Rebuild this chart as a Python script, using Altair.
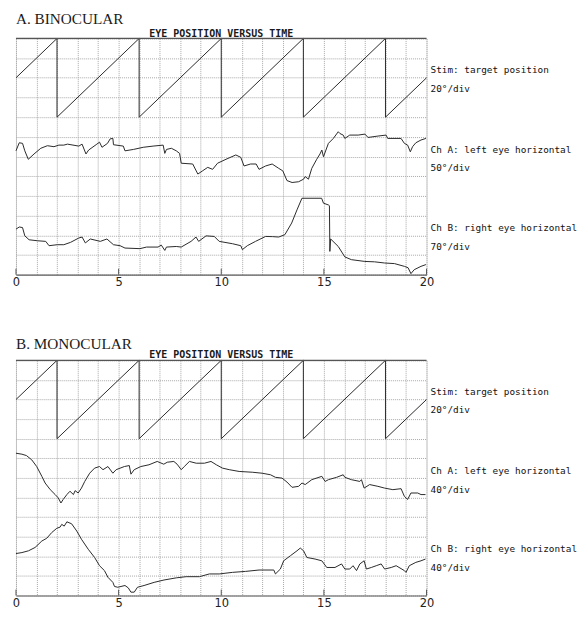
import altair as alt
import pandas as pd

# ---- data (time in s, positions in grid divisions: 0 = bottom, 12 = top) ----
STIM = [(0, 10), (2, 12), (2, 8), (6, 12), (6, 8), (10, 12), (10, 8),
        (14, 12), (14, 8), (18, 12), (18, 8), (20, 10)]

A_CH_A = [(0, 6.29), (0.16, 6.70), (0.32, 6.67), (0.43, 6.29), (0.6, 5.86), (0.88, 6.13),
          (1.21, 6.42), (1.53, 6.55), (1.85, 6.50), (2.09, 6.58), (2.33, 6.58), (2.51, 6.63),
          (3.06, 6.53), (3.22, 6.63), (3.41, 6.13), (3.54, 6.33), (3.94, 6.63), (4.07, 6.73),
          (4.19, 6.47), (4.46, 6.67), (4.59, 6.90), (4.72, 6.92), (4.75, 6.60), (5.23, 6.53),
          (5.31, 6.29), (5.72, 6.36), (6.2, 6.47), (6.68, 6.53), (7.17, 6.58), (7.25, 6.16),
          (7.33, 6.36), (7.57, 6.42), (7.81, 6.29), (7.97, 6.16), (8.05, 5.66), (8.61, 5.62),
          (8.86, 5.11), (9.1, 5.28), (9.34, 5.45), (9.58, 5.35), (9.82, 5.66), (10.23, 5.86),
          (10.71, 6.08), (10.95, 5.96), (11.11, 5.52), (11.43, 5.62), (11.7, 5.62), (11.84, 5.35),
          (12.16, 5.52), (12.48, 5.62), (12.8, 5.40), (13.0, 5.27), (13.2, 4.78), (13.45, 4.68),
          (13.77, 4.72), (14.01, 4.85), (14.09, 4.98), (14.25, 4.85), (14.41, 5.40), (14.65, 5.86),
          (14.81, 6.13), (14.9, 6.33), (14.98, 5.99), (15.22, 6.67), (15.46, 6.92), (15.7, 7.26),
          (15.78, 7.17), (15.94, 7.09), (16.02, 6.92), (16.26, 7.09), (16.67, 7.09), (17.0, 7.14),
          (17.15, 6.97), (17.63, 7.04), (18.03, 7.09), (18.11, 6.92), (18.76, 6.92), (18.92, 6.67),
          (19.08, 6.58), (19.21, 6.24), (19.32, 6.50), (19.48, 6.70), (19.73, 6.84), (19.97, 6.92)]

A_CH_B = [(0, 2.31), (0.16, 2.42), (0.32, 2.39), (0.43, 1.97), (0.64, 1.77), (1.05, 1.72),
          (1.45, 1.69), (1.61, 1.47), (2.01, 1.52), (2.33, 1.52), (2.66, 1.64), (3.06, 1.86),
          (3.22, 1.91), (3.38, 1.61), (3.62, 1.81), (4.11, 1.69), (4.43, 1.81), (4.75, 1.52),
          (5.07, 1.47), (5.31, 1.35), (6.04, 1.32), (6.36, 1.40), (6.92, 1.40), (7.08, 1.50),
          (7.25, 1.23), (7.33, 1.40), (7.81, 1.43), (8.05, 1.40), (8.53, 1.69), (8.77, 1.91),
          (8.9, 1.69), (9.26, 1.97), (9.66, 1.94), (9.9, 1.69), (10.55, 1.57), (10.95, 1.47),
          (11.03, 1.27), (11.27, 1.47), (11.67, 1.69), (12.16, 1.94), (12.5, 1.93), (12.8, 1.91),
          (13.1, 2.03), (13.43, 2.62), (13.69, 3.29), (13.93, 3.88), (14.89, 3.88), (14.98, 3.63),
          (15.22, 3.54), (15.27, 3.50), (15.29, 1.18), (15.33, 1.81), (15.7, 1.43), (16.02, 0.90),
          (16.34, 0.76), (16.99, 0.67), (17.47, 0.65), (17.96, 0.59), (18.44, 0.56), (18.92, 0.42),
          (19.1, 0.35), (19.24, 0.05), (19.4, 0.25), (19.73, 0.42), (19.97, 0.51)]

B_CH_A = [(0, 7.26), (0.29, 7.21), (0.51, 7.14), (0.77, 6.92), (1.01, 6.58), (1.26, 6.08),
          (1.42, 5.74), (1.67, 5.40), (1.91, 5.15), (2.06, 4.98), (2.19, 4.72), (2.3, 4.90),
          (2.48, 5.15), (2.63, 5.32), (2.8, 5.15), (2.88, 5.35), (3.03, 5.23), (3.19, 5.48),
          (3.35, 5.82), (3.59, 6.24), (3.83, 6.50), (4.07, 6.58), (4.24, 6.42), (4.48, 6.58),
          (4.72, 6.24), (4.88, 6.42), (5.28, 6.58), (5.52, 6.63), (5.6, 6.19), (5.76, 6.42),
          (6.08, 6.58), (6.48, 6.67), (6.88, 6.84), (7.2, 6.70), (7.37, 6.80), (7.69, 6.84),
          (7.85, 6.70), (8.05, 6.42), (8.2, 6.58), (8.45, 6.84), (8.78, 6.75), (9.18, 6.75),
          (9.5, 6.84), (9.76, 6.67), (10.06, 6.50), (10.39, 6.42), (10.87, 6.33), (11.51, 6.29),
          (11.99, 6.24), (12.4, 6.16), (12.64, 6.03), (12.96, 5.99), (13.2, 5.79), (13.45, 5.52),
          (13.77, 5.57), (13.93, 5.74), (14.09, 5.66), (14.41, 5.91), (14.9, 6.08), (15.06, 5.82),
          (15.22, 5.91), (15.62, 6.03), (15.94, 6.16), (16.02, 6.03), (16.34, 5.91), (16.75, 5.82),
          (16.83, 5.91), (16.96, 5.48), (17.23, 5.66), (17.63, 5.57), (17.96, 5.48), (18.36, 5.40),
          (18.76, 5.45), (18.92, 5.06), (19.08, 4.90), (19.24, 5.23), (19.57, 5.23), (19.73, 5.15),
          (19.95, 5.15)]

B_CH_B = [(0, 2.14), (0.29, 2.19), (0.61, 2.28), (0.93, 2.45), (1.26, 2.78), (1.5, 2.92),
          (1.74, 3.21), (1.99, 3.43), (2.15, 3.49), (2.23, 3.63), (2.35, 3.54), (2.48, 3.76),
          (2.71, 3.66), (2.96, 3.29), (3.19, 2.87), (3.52, 2.36), (3.83, 1.94), (4.07, 1.52),
          (4.31, 1.27), (4.48, 0.93), (4.72, 0.67), (4.8, 0.46), (4.96, 0.42), (5.31, 0.51),
          (5.47, 0.39), (5.6, 0.17), (5.76, 0.17), (5.92, 0.42), (6.24, 0.51), (6.73, 0.67),
          (7.21, 0.79), (7.81, 0.90), (8.29, 0.96), (8.94, 0.96), (9.42, 1.10), (9.9, 1.10),
          (10.55, 1.18), (11.19, 1.23), (11.84, 1.30), (12.56, 1.30), (12.64, 1.10), (12.88, 1.35),
          (13.04, 1.77), (13.37, 2.03), (13.69, 2.28), (13.85, 2.42), (14.01, 2.28), (14.17, 1.94),
          (14.57, 1.86), (14.9, 1.77), (15.14, 1.43), (15.54, 1.43), (15.86, 1.61), (16.02, 1.35),
          (16.26, 1.35), (16.42, 1.52), (16.59, 1.27), (16.75, 1.61), (16.96, 1.77), (17.07, 1.35),
          (17.31, 1.43), (17.55, 1.52), (17.79, 1.61), (17.96, 1.35), (18.28, 1.43), (18.52, 1.52),
          (18.92, 1.27), (19.0, 1.18), (19.16, 1.52), (19.48, 1.69), (19.73, 1.77), (19.95, 1.86)]

X_TICKS = [0, 5, 10, 15, 20]
A_LABELS = ["Stim: target position", "20°/div", "Ch A: left eye horizontal", "50°/div",
            "Ch B: right eye horizontal", "70°/div"]
B_LABELS = ["Stim: target position", "20°/div", "Ch A: left eye horizontal", "40°/div",
            "Ch B: right eye horizontal", "40°/div"]
LABEL_ROWS = [10.4, 9.45, 6.35, 5.4, 2.35, 1.4]

W = 412
INK = "#2b2b2b"


def tdf(pairs):
    return pd.DataFrame({"t": [p[0] for p in pairs], "v": [p[1] for p in pairs],
                         "i": list(range(len(pairs)))})


def panel(title, labels, ch_a, ch_b, title_dy, sub_dy, height):
    xs = alt.Scale(domain=[0, 20], nice=False, zero=False)
    ys = alt.Scale(domain=[0, 12], nice=False, zero=False)
    xaxis = alt.Axis(values=list(range(21)),
                     labelExpr="datum.value % 5 === 0 ? datum.label : ''",
                     ticks=False, grid=True, gridDash=[1, 1], gridColor="#a8a8a8",
                     gridWidth=1, domainColor="#666666", domainWidth=1.2,
                     labelFont="DejaVu Sans", labelFontSize=11.5, labelColor="#222222",
                     labelPadding=2, labelAngle=0, title=None, labelFlush=False)
    yaxis = alt.Axis(values=list(range(13)), labels=False, ticks=False, domain=False,
                     grid=True, gridDash=[1, 1], gridColor="#a8a8a8", gridWidth=1, title=None)
    X = alt.X("t:Q", scale=xs, axis=xaxis)
    Y = alt.Y("v:Q", scale=ys, axis=yaxis)

    def line(pairs):
        return alt.Chart(tdf(pairs)).mark_line(color=INK, strokeWidth=1).encode(
            x=X, y=Y, order="i:Q")

    top = alt.Chart(pd.DataFrame({"t": [0], "t2": [20], "v": [12]})).mark_rule(
        color="#555555", strokeWidth=1.3).encode(x=X, x2="t2:Q", y=Y)
    ticks = alt.Chart(pd.DataFrame({"t": X_TICKS, "v": [0] * 5, "v2": [0.3] * 5})).mark_rule(
        color="#555555", strokeWidth=1).encode(x=X, y=Y, y2="v2:Q")
    lab = alt.Chart(pd.DataFrame({"t": [20] * 6, "v": LABEL_ROWS, "txt": labels})).mark_text(
        align="left", baseline="middle", dx=4, font="DejaVu Sans Mono", fontSize=9.4,
        color="#111111").encode(x=X, y=Y, text="txt:N")
    head = alt.Chart(pd.DataFrame({"txt": [title]})).mark_text(
        align="left", baseline="alphabetic", font="Liberation Serif", fontSize=15.3,
        color="#1a1a1a").encode(x=alt.value(0), y=alt.value(title_dy), text="txt:N")
    sub = alt.Chart(pd.DataFrame({"t": [10], "txt": ["EYE POSITION VERSUS TIME"]})).mark_text(
        align="center", baseline="alphabetic", font="DejaVu Sans Mono", fontSize=10,
        fontWeight="bold", color="#1a1a1a").encode(x=X, y=alt.value(sub_dy), text="txt:N")

    return alt.layer(line(STIM), line(ch_a), line(ch_b), top, ticks, lab, head, sub).properties(
        width=W, height=height)


pa = panel("A. BINOCULAR", A_LABELS, A_CH_A, A_CH_B, -14, -1.5, 237)
pb = panel("B. MONOCULAR", B_LABELS, B_CH_A, B_CH_B, -11, -2, 236)

chart = alt.vconcat(pa, pb, spacing=86, bounds="flush").properties(
    padding={"left": 3, "top": 2.5, "right": 0, "bottom": 0}
).configure_view(stroke=None).configure(background="white")

chart.save("out.html", embed_options={"renderer": "svg", "actions": False})
